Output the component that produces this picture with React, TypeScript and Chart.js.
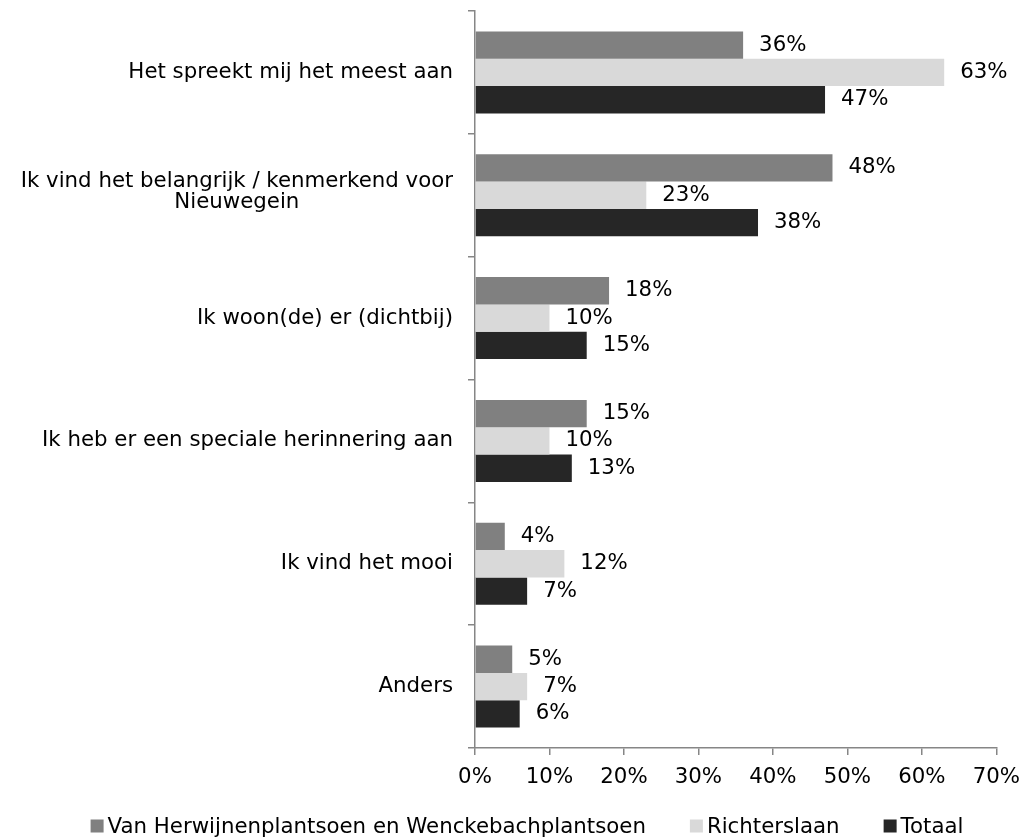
import React, { useEffect, useRef } from "react";
import { Chart, registerables } from "chart.js";

Chart.register(...registerables);

const categories: (string | string[])[] = [
  "Het spreekt mij het meest aan",
  ["Ik vind het belangrijk / kenmerkend voor", "Nieuwegein"],
  "Ik woon(de) er (dichtbij)",
  "Ik heb er een speciale herinnering aan",
  "Ik vind het mooi",
  "Anders",
];

const seriesNames = [
  "Van Herwijnenplantsoen en Wenckebachplantsoen",
  "Richterslaan",
  "Totaal",
];

const vanHerwijnen = [36, 48, 18, 15, 4, 5];
const richterslaan = [63, 23, 10, 10, 12, 7];
const totaal = [47, 38, 15, 13, 7, 6];

const seriesColors = ["#808080", "#d9d9d9", "#262626"];

const FONT_FAMILY = "'DejaVu Sans', Verdana, sans-serif";
const FONT_SIZE = 21.3;

const yLabelPlugin = {
  id: "yLabels",
  afterDraw(chart: any) {
    const ctx = chart.ctx;
    const yScale = chart.scales.y;
    const rightX = chart.chartArea.left - 22;
    ctx.save();
    ctx.font = `${FONT_SIZE}px ${FONT_FAMILY}`;
    ctx.fillStyle = "#000";
    ctx.textBaseline = "middle";
    ctx.textAlign = "center";
    const lineH = 21;
    (chart.data.labels as (string | string[])[]).forEach((lab, i) => {
      const lines = Array.isArray(lab) ? lab : [lab];
      const maxW = Math.max(...lines.map((l) => ctx.measureText(l).width));
      const cx = rightX - maxW / 2;
      const cy = yScale.getPixelForValue(i);
      const startY = cy - ((lines.length - 1) * lineH) / 2 - (lines.length > 1 ? 3 : 0);
      lines.forEach((l, k) => {
        ctx.fillText(l, cx, startY + k * lineH);
      });
    });
    ctx.restore();
  },
};

const dataLabelPlugin = {
  id: "dataLabels",
  afterDatasetsDraw(chart: any) {
    const ctx = chart.ctx;
    ctx.save();
    ctx.font = `${FONT_SIZE}px ${FONT_FAMILY}`;
    ctx.fillStyle = "#000";
    ctx.textBaseline = "middle";
    ctx.textAlign = "left";
    chart.data.datasets.forEach((ds: any, di: number) => {
      const meta = chart.getDatasetMeta(di);
      meta.data.forEach((el: any, i: number) => {
        ctx.fillText(`${ds.data[i]}%`, el.x + 16, el.y);
      });
    });
    ctx.restore();
  },
};

const legendPlugin = {
  id: "customLegend",
  afterDraw(chart: any) {
    const ctx = chart.ctx;
    ctx.save();
    ctx.font = `${FONT_SIZE}px ${FONT_FAMILY}`;
    ctx.textBaseline = "middle";
    ctx.textAlign = "left";
    const box = 13;
    const boxGap = 4;
    const itemGap = 44;
    const cy = 827;
    const datasets = chart.data.datasets;
    const widths = datasets.map(
      (ds: any) => box + boxGap + ctx.measureText(ds.label).width
    );
    const total =
      widths.reduce((a: number, b: number) => a + b, 0) +
      itemGap * (datasets.length - 1);
    let x = 527 - total / 2;
    datasets.forEach((ds: any, i: number) => {
      ctx.fillStyle = ds.backgroundColor;
      ctx.fillRect(x, cy - box / 2 - 1, box, box);
      ctx.fillStyle = "#000";
      ctx.fillText(ds.label, x + box + boxGap, cy);
      x += widths[i] + itemGap;
    });
    ctx.restore();
  },
};

export default function App() {
  const canvasRef = useRef<HTMLCanvasElement | null>(null);

  useEffect(() => {
    if (!canvasRef.current) return;
    const seriesValues = [vanHerwijnen, richterslaan, totaal];
    const chart = new Chart(canvasRef.current, {
      type: "bar",
      data: {
        labels: categories as any,
        datasets: seriesValues.map((vals, i) => ({
          label: seriesNames[i],
          data: vals,
          backgroundColor: seriesColors[i],
          borderWidth: 0,
          categoryPercentage: 0.667,
          barPercentage: 1.0,
        })),
      },
      options: {
        indexAxis: "y",
        responsive: false,
        animation: false,
        layout: { padding: { top: 11, right: 32, left: 0, bottom: 0 } },
        plugins: {
          legend: { display: false },
          tooltip: { enabled: false },
        },
        scales: {
          x: {
            min: 0,
            max: 70,
            ticks: {
              stepSize: 10,
              callback: (v: any) => `${v}%`,
              color: "#000",
              font: { family: FONT_FAMILY, size: FONT_SIZE },
              padding: 10,
              maxRotation: 0,
            },
            grid: {
              display: true,
              drawOnChartArea: false,
              drawTicks: true,
              tickLength: 7,
              color: "#868686",
              lineWidth: 1.5,
            },
            border: { display: true, color: "#868686", width: 1.5 },
            afterFit: (scale: any) => {
              scale.height = 90;
            },
          },
          y: {
            offset: true,
            ticks: { display: false },
            grid: {
              display: true,
              offset: true,
              drawOnChartArea: false,
              drawTicks: true,
              tickLength: 7,
              color: "#868686",
              lineWidth: 1.5,
            },
            border: { display: true, color: "#868686", width: 1.5 },
            afterFit: (scale: any) => {
              scale.width = 475;
            },
          },
        },
      },
      plugins: [yLabelPlugin, dataLabelPlugin, legendPlugin],
    });
    return () => chart.destroy();
  }, []);

  return (
    <canvas
      ref={canvasRef}
      width={1030}
      height={838}
      style={{ position: "absolute", left: 0, top: 0, width: 1030, height: 838 }}
    />
  );
}
